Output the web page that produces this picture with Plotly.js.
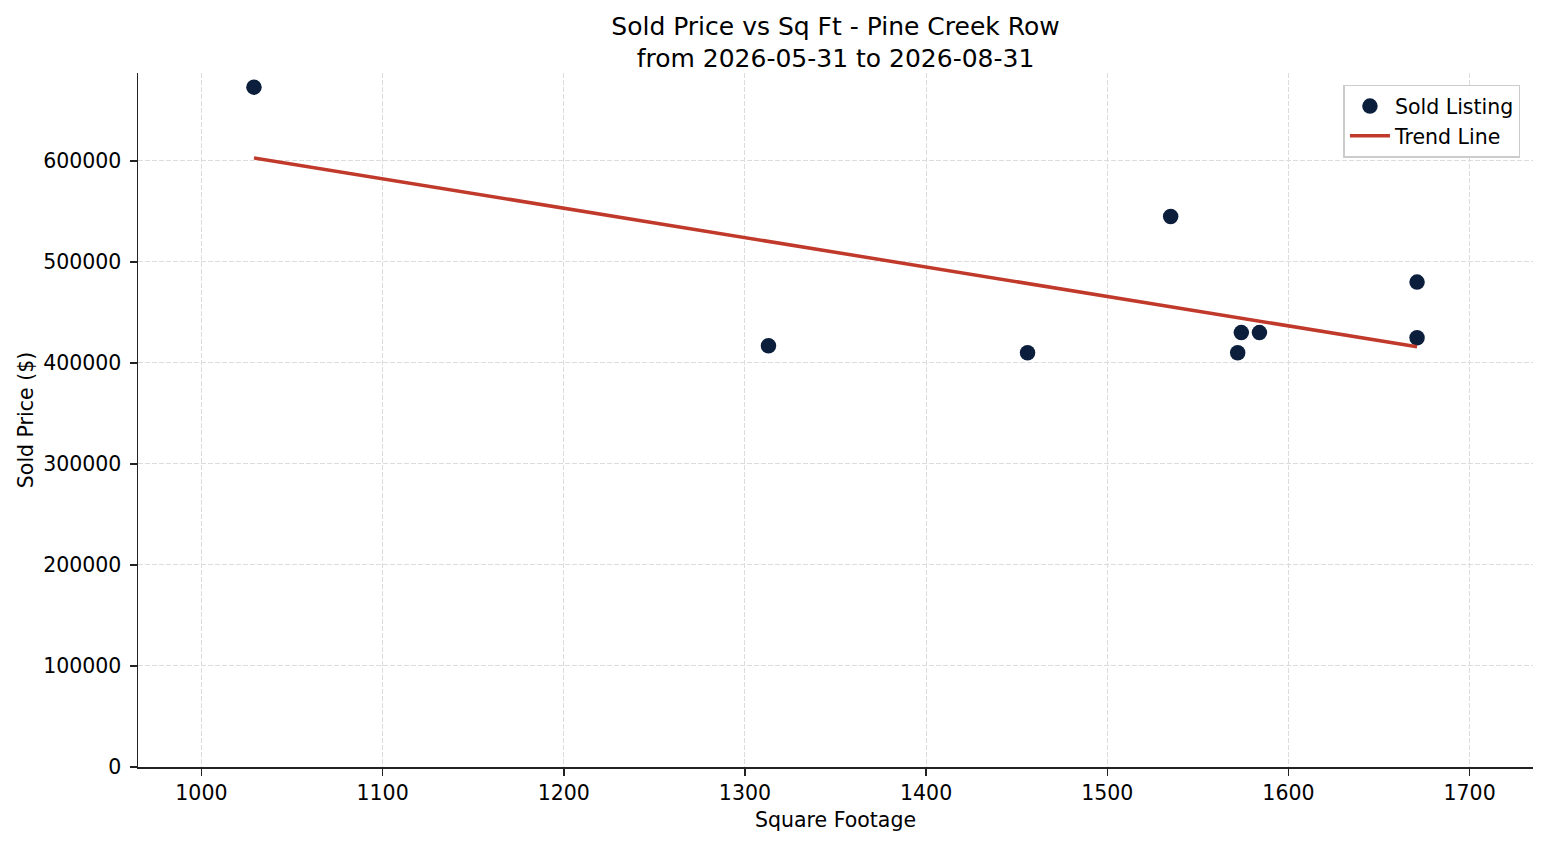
<!DOCTYPE html>
<html>
<head>
<meta charset="utf-8">
<script src="https://cdn.plot.ly/plotly-3.0.1.min.js"></script>
<style>
  html, body { margin: 0; padding: 0; background: #fff; }
  #chart { width: 1547px; height: 845px; }
</style>
</head>
<body>
<div id="chart"></div>
<script>
// sold listings
const sqft = [1029, 1313, 1456, 1535, 1572, 1574, 1584, 1671, 1671];
const soldPrice = [673000, 417000, 410000, 545000, 410000, 430000, 430000, 480000, 425000];

// trend line end points
const trendX = [1029, 1671];
const trendY = [603000, 416000];

const xTicks = [1000, 1100, 1200, 1300, 1400, 1500, 1600, 1700];
const yTicks = [0, 100000, 200000, 300000, 400000, 500000, 600000];

const FONT = "DejaVu Sans, Verdana, sans-serif";

const points = {
  type: "scatter",
  mode: "markers",
  name: "Sold Listing",
  x: sqft,
  y: soldPrice,
  marker: { size: 15.5, color: "#0b1f3c", line: { width: 0 } },
  hoverinfo: "x+y"
};

const trend = {
  type: "scatter",
  mode: "lines",
  name: "Trend Line",
  x: trendX,
  y: trendY,
  line: { color: "#c0392b", width: 3.5 },
  hoverinfo: "none"
};

const axisCommon = {
  showline: true,
  linecolor: "#222",
  linewidth: 1.5,
  ticks: "outside",
  ticklen: 7,
  tickwidth: 1.5,
  tickcolor: "#222",
  showgrid: true,
  gridcolor: "#dcdcdc",
  gridwidth: 1,
  griddash: "5px,2px",
  zeroline: false,
  tickfont: { family: FONT, size: 20.5, color: "#000" },
  mirror: false
};

const layout = {
  width: 1547,
  height: 845,
  paper_bgcolor: "#fff",
  plot_bgcolor: "#fff",
  font: { family: FONT, color: "#000" },
  margin: { l: 138, r: 14, t: 73, b: 78 },
  title: {
    text: "Sold Price vs Sq Ft - Pine Creek Row<br>from 2026-05-31 to 2026-08-31",
    font: { family: FONT, size: 25, color: "#000" },
    x: 0.5,
    xref: "paper",
    y: 0.9586,
    yref: "container",
    yanchor: "top"
  },
  xaxis: Object.assign({}, axisCommon, {
    range: [965, 1735],
    tickvals: xTicks,
    ticktext: xTicks.map(String),
    title: { text: "Square Footage", font: { family: FONT, size: 20.5 }, standoff: 8 }
  }),
  yaxis: Object.assign({}, axisCommon, {
    range: [0, 687000],
    tickvals: yTicks,
    ticktext: yTicks.map(String),
    ticklabelstandoff: 4,
    title: { text: "Sold Price ($)", font: { family: FONT, size: 20.5 }, standoff: 4 }
  }),
  showlegend: true,
  legend: {
    x: 0.991,
    y: 0.983,
    xanchor: "right",
    yanchor: "top",
    bgcolor: "rgba(255,255,255,0.85)",
    bordercolor: "#cccccc",
    borderwidth: 1.5,
    font: { family: FONT, size: 20.5, color: "#000" },
    itemwidth: 40
  }
};

Plotly.newPlot("chart", [points, trend], layout, {
  displayModeBar: false,
  staticPlot: true
});
</script>
</body>
</html>
